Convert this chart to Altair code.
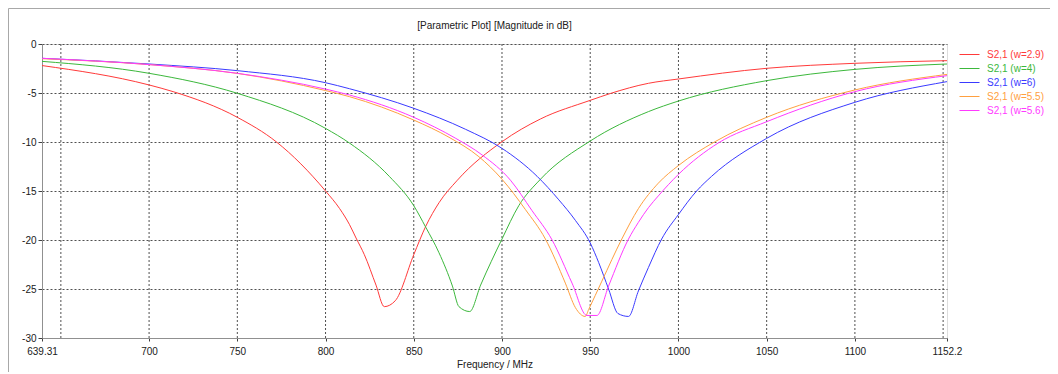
import altair as alt
import pandas as pd

# ---- data ----
title_text = ["[Parametric Plot] [Magnitude in dB]"]
series_names = ["S2,1 (w=2.9)", "S2,1 (w=4)", "S2,1 (w=6)", "S2,1 (w=5.5)", "S2,1 (w=5.6)"]
series_colors = ["#ff3a3a", "#3cb83c", "#3a3aff", "#ffa040", "#ff3aff"]

f_w29 = [639.31, 700, 713.6, 750, 772, 800, 808, 813.5, 817.3, 822, 828.6, 833.3, 839.5,
         850, 856.8, 864.3, 874.7, 900, 921.8, 950, 961.4, 983, 1000, 1050, 1100, 1152.2]
db_w29 = [-2.2, -4.18, -4.86, -7.48, -9.97, -15.0, -16.8, -18.4, -19.8, -21.5, -24.6, -26.8, -26.2,
          -21.5, -18.6, -16.2, -13.9, -9.97, -7.65, -5.75, -5.05, -4.01, -3.57, -2.48, -1.97, -1.7]

f_w4 = [639.31, 700, 750, 800, 813.5, 836.1, 850, 856.8, 864.3, 871.9, 875.6, 881.7, 887.9,
        900, 909.5, 921.8, 950, 983, 1000, 1050, 1100, 1152.2]
db_w4 = [-1.77, -2.99, -5.03, -8.61, -10.1, -13.5, -16.5, -18.7, -21.3, -24.7, -26.8, -27.3, -24.6,
         -19.9, -16.5, -13.8, -9.9, -6.9, -5.82, -3.74, -2.59, -2.04]

f_w6 = [639.31, 700, 750, 800, 813.5, 850, 879.4, 900, 919.9, 932.2, 941.6, 950, 954.8, 960.4,
        965.7, 971.7, 977.3, 983, 990.5, 1000, 1010.3, 1018.8, 1050, 1100, 1152.2]
db_w6 = [-1.46, -2.04, -2.72, -3.95, -4.56, -6.56, -8.71, -10.65, -13.5, -15.9, -18.0, -20.3, -22.3, -25.0,
         -27.5, -27.8, -25.2, -22.8, -19.9, -17.4, -15.0, -13.5, -9.63, -5.95, -3.84]

f_w55 = [639.31, 700, 750, 800, 813.5, 850, 870, 886.9, 900, 913.3, 924.6, 935.9, 941.6, 947.2,
         949.1, 956.6, 967.9, 977.3, 988.6, 1000, 1020.7, 1050, 1100, 1152.2]
db_w55 = [-1.5, -2.1, -3.0, -4.75, -5.37, -7.76, -9.52, -11.5, -13.8, -16.9, -19.9, -24.4, -26.9, -27.8,
          -27.1, -24.2, -19.9, -16.8, -14.2, -12.4, -9.97, -7.48, -4.69, -3.1]

f_w56 = [639.31, 700, 750, 800, 813.5, 850, 873.8, 888.8, 904.8, 917, 928.4, 939.7, 948.1, 953.8,
         960.4, 971.7, 977.3, 983, 988.6, 1000, 1022.6, 1050, 1100, 1152.2]
db_w56 = [-1.46, -2.1, -2.99, -4.6, -5.2, -7.48, -9.63, -11.33, -13.9, -17.0, -20.0, -24.4, -27.7, -27.7,
          -24.7, -19.9, -18.2, -16.7, -15.5, -13.3, -10.1, -7.93, -4.86, -3.23]

x_label_values = [639.31, 700, 750, 800, 850, 900, 950, 1000, 1050, 1100, 1152.2]
x_grid_values = [650, 700, 750, 800, 850, 900, 950, 1000, 1050, 1100, 1150]
y_values = [0, -5, -10, -15, -20, -25, -30]

# ---- build table ----
rows = []
for name, fs, ds in zip(series_names,
                        [f_w29, f_w4, f_w6, f_w55, f_w56],
                        [db_w29, db_w4, db_w6, db_w55, db_w56]):
    for i, (f, d) in enumerate(zip(fs, ds)):
        rows.append({"series": name, "freq": f, "db": d, "order": i})
df = pd.DataFrame(rows)

W, H = 905, 294
FONT = "Liberation Sans"

xscale = alt.Scale(domain=[639.31, 1152.2], nice=False, zero=False)
yscale = alt.Scale(domain=[-30, 0], nice=False, zero=False)

x_axis = alt.Axis(values=x_label_values, labelExpr="'' + datum.value",
                  grid=False, tickSize=3, tickColor="#404040",
                  domainColor="#909090", labelFontSize=10, labelFont=FONT,
                  labelColor="#202020", labelPadding=5, labelFlush=False,
                  titleFont=FONT, titleFontSize=10, titleFontWeight="normal",
                  titleColor="#202020", titlePadding=3)

frame = alt.Chart(pd.DataFrame({"a": [0]})).mark_rect(
    fill=None, stroke="#a8a8a8", strokeWidth=1
).encode(
    x=alt.value(-33.5), x2=alt.value(W + 140),
    y=alt.value(-35.5), y2=alt.value(H + 60)
)

title = alt.Chart(pd.DataFrame({"t": title_text})).mark_text(
    font=FONT, fontSize=10, color="#202020", align="center", baseline="middle"
).encode(
    text="t:N", x=alt.value(W / 2), y=alt.value(-18)
)

grid = alt.Chart(pd.DataFrame({"g": x_grid_values})).mark_rule(
    stroke="#505050", strokeDash=[2, 2], strokeWidth=1
).encode(
    x=alt.X("g:Q", scale=xscale, title="Frequency / MHz", axis=x_axis)
)

lines = alt.Chart(df).mark_line(strokeWidth=1, interpolate="monotone").encode(
    x=alt.X("freq:Q", scale=xscale, title="Frequency / MHz", axis=x_axis),
    y=alt.Y("db:Q", scale=yscale, title=None,
            axis=alt.Axis(values=y_values, labelExpr="'' + datum.value",
                          grid=True, gridColor="#505050", gridDash=[2, 2],
                          tickSize=4, tickColor="#404040", domainColor="#909090",
                          labelFontSize=10, labelFont=FONT, labelColor="#202020",
                          labelPadding=2)),
    color=alt.Color("series:N",
                    scale=alt.Scale(domain=series_names, range=series_colors),
                    legend=alt.Legend(title=None, orient="none", legendX=922, legendY=5,
                                      symbolType="M-2,0H2", symbolSize=100,
                                      symbolStrokeWidth=1, labelOffset=12,
                                      labelFont=FONT, labelFontSize=10,
                                      labelColor=alt.ExprRef("scale('color', datum.value)"),
                                      rowPadding=3, padding=0)),
    order="order:Q",
    detail="series:N",
)

chart = alt.layer(frame, title, grid, lines).properties(
    width=W, height=H,
    autosize=alt.AutoSizeParams(type="none"),
    padding={"left": 34, "top": 36, "right": 103, "bottom": 34},
).configure_view(stroke="#a0a0a0", strokeWidth=1).configure(background="white")

chart.save("out.html", embed_options={"renderer": "svg", "actions": False})
